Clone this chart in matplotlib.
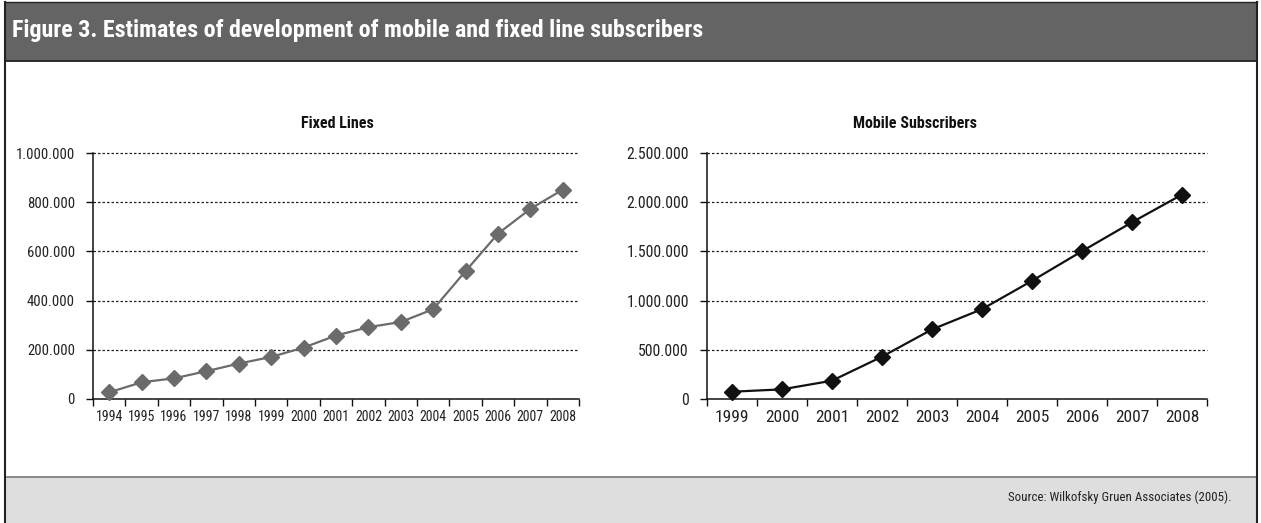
import matplotlib
matplotlib.use("Agg")
import matplotlib.pyplot as plt
from matplotlib import font_manager as fm
from matplotlib.patches import Rectangle
from matplotlib.ticker import FixedLocator, FuncFormatter, NullFormatter

# ---- data -------------------------------------------------------------
fixed_years = ["1994", "1995", "1996", "1997", "1998", "1999", "2000", "2001",
               "2002", "2003", "2004", "2005", "2006", "2007", "2008"]
fixed_lines = [27000, 68000, 84000, 113000, 144000, 171000, 209000, 258000,
               292000, 313000, 365000, 520000, 672000, 773000, 851000]

mobile_years = ["1999", "2000", "2001", "2002", "2003", "2004", "2005", "2006",
                "2007", "2008"]
mobile_subs = [74000, 98000, 186000, 430000, 707000, 913000, 1201000, 1502000,
               1796000, 2077000]

fixed_yticks = [0, 200000, 400000, 600000, 800000, 1000000]
mobile_yticks = [0, 500000, 1000000, 1500000, 2000000, 2500000]

fig_title = "Figure 3. Estimates of development of mobile and fixed line subscribers"
left_title = "Fixed Lines"
right_title = "Mobile Subscribers"
source_text = "Source: Wilkofsky Gruen Associates (2005)."


# ---- fonts ------------------------------------------------------------
def pick_family(names):
    for n in names:
        try:
            fm.findfont(fm.FontProperties(family=n), fallback_to_default=False)
            return n
        except Exception:
            continue
    return "DejaVu Sans"


FONT = pick_family(["Liberation Sans Narrow", "Roboto Condensed",
                    "Open Sans Condensed", "Liberation Sans"])
plt.rcParams["font.family"] = [FONT, "DejaVu Sans"]

W, H = 1261, 523
fig = plt.figure(figsize=(W / 100, H / 100), dpi=100)
fig.patch.set_facecolor("white")


def fx(px):
    return px / W


def fy(py):
    return 1 - py / H


def rect(x0, y0, x1, y1, **kw):
    fig.patches.append(Rectangle((fx(x0), fy(y1)), fx(x1) - fx(x0), fy(y0) - fy(y1),
                                 transform=fig.transFigure, figure=fig, **kw))


# header band, body and footer
rect(5, 2, 1257, 61, facecolor="#646464", edgecolor="none", zorder=0)
rect(5, 477, 1257, 523, facecolor="#dedede", edgecolor="none", zorder=0)
fig.add_artist(plt.Line2D([fx(5), fx(1257)], [fy(61), fy(61)], color="#222222", lw=1.3))
fig.add_artist(plt.Line2D([fx(5), fx(1257)], [fy(477), fy(477)], color="#808080", lw=1.3))
fig.add_artist(plt.Line2D([fx(5), fx(5)], [fy(2), fy(523)], color="#222222", lw=1.5))
fig.add_artist(plt.Line2D([fx(1257), fx(1257)], [fy(2), fy(523)], color="#222222", lw=1.5))
fig.add_artist(plt.Line2D([fx(5), fx(1257)], [fy(2), fy(2)], color="#222222", lw=1.0))

fig.text(fx(12), fy(31), fig_title, color="white", fontsize=17.3,
         fontweight="bold", va="center", ha="left")
fig.text(fx(1232), fy(501), source_text, color="#222222", fontsize=9.3,
         va="baseline", ha="right")


def thousands(v, _pos):
    return f"{int(v):,}".replace(",", ".")


def make_panel(box, cats, values, yticks, title, title_x, color, xfs, yfs, ms):
    x0, y0, x1, y1 = box
    ax = fig.add_axes([fx(x0), fy(y1), fx(x1) - fx(x0), fy(y0) - fy(y1)])
    n = len(cats)
    xs = list(range(n))
    ax.plot(xs, values, color=color, lw=1.6, marker="D", markersize=ms,
            markerfacecolor=color, markeredgecolor=color, zorder=3, clip_on=False)
    ax.set_xlim(-0.5, n - 0.5)
    ax.set_ylim(yticks[0], yticks[-1])

    # category boundaries carry the tick marks; labels sit at the centres
    ax.xaxis.set_major_locator(FixedLocator([i - 0.5 for i in range(n + 1)]))
    ax.xaxis.set_major_formatter(NullFormatter())
    ax.xaxis.set_minor_locator(FixedLocator(xs))
    ax.set_xticklabels(cats, minor=True)
    ax.tick_params(axis="x", which="major", direction="out", length=5, width=1,
                   color="#111111")
    ax.tick_params(axis="x", which="minor", length=0, pad=8, labelsize=xfs,
                   labelcolor="#222222")

    ax.yaxis.set_major_locator(FixedLocator(yticks))
    ax.yaxis.set_major_formatter(FuncFormatter(thousands))
    ax.tick_params(axis="y", direction="out", length=5, width=1, color="#111111",
                   pad=8, labelsize=yfs, labelcolor="#222222")

    for v in yticks[1:]:
        ax.axhline(v, color="#222222", lw=0.9, ls=(0, (2.0, 1.6)), zorder=1,
                   clip_on=False)

    for s in ("top", "right"):
        ax.spines[s].set_visible(False)
    for s in ("left", "bottom"):
        ax.spines[s].set_color("#111111")
        ax.spines[s].set_linewidth(1.1)
        ax.spines[s].set_zorder(2)

    fig.text(fx(title_x), fy(y0 - 29), title, ha="center", va="center",
             fontsize=11.5, fontweight="bold", color="#111111")
    return ax


make_panel((93, 153, 579, 399), fixed_years, fixed_lines, fixed_yticks,
           left_title, 337, "#6b6b6b", 10, 10.6, 8)
make_panel((707, 153, 1207, 399), mobile_years, mobile_subs, mobile_yticks,
           right_title, 915, "#111111", 12.5, 11.3, 8.5)

fig.savefig("out.png", dpi=100)
